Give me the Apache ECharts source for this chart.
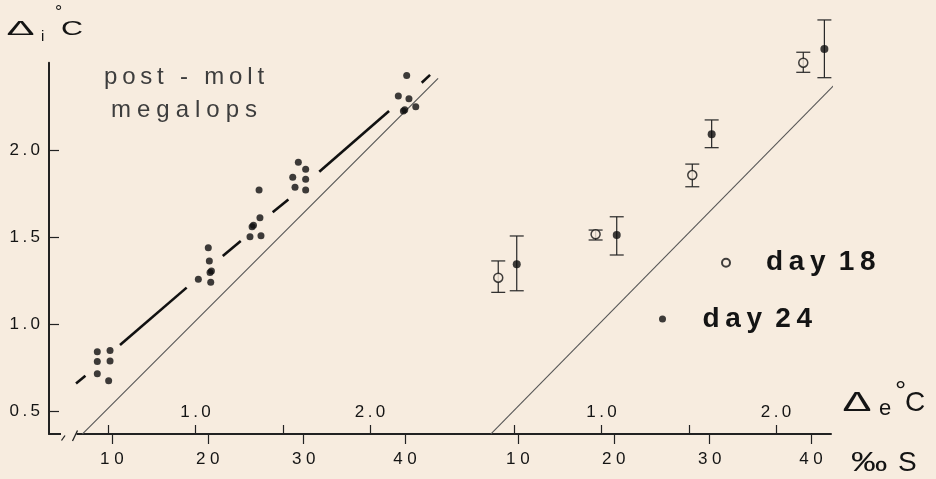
<!DOCTYPE html>
<html>
<head>
<meta charset="utf-8">
<script src="https://cdn.jsdelivr.net/npm/echarts@6/dist/echarts.min.js"></script>
<style>
  html, body { margin: 0; padding: 0; background: #f7ecdf; }
  #chart { width: 936px; height: 479px; }
</style>
</head>
<body>
<div id="chart"></div>
<script>
// ---- data ----------------------------------------------------------------
// Vertical axis (internal freezing-point depression, Δi °C)
const yTicks = [0.5, 1.0, 1.5, 2.0];
// Horizontal axis (external freezing-point depression, Δe °C)
const deltaETicks = [0.5, 1.0, 1.5, 2.0];
const deltaELabels = [1.0, 2.0];
// Salinity scale printed under the axis, placed at its Δe equivalent
const salinityLabels = ['10', '20', '30', '40'];
const salinityDeltaE = [0.52, 1.07, 1.62, 2.20];

// Post-molt megalops, individual determinations [Δe, Δi]
const megalopsPoints = [
  [0.437, 0.844], [0.510, 0.850], [0.437, 0.787], [0.510, 0.791], [0.437, 0.718], [0.502, 0.678],
  [1.073, 1.440], [1.079, 1.364], [1.083, 1.298], [1.091, 1.306], [1.016, 1.259], [1.087, 1.242],
  [1.364, 1.770], [1.369, 1.612], [1.324, 1.560], [1.332, 1.568], [1.312, 1.503], [1.375, 1.509],
  [1.589, 1.930], [1.631, 1.889], [1.557, 1.843], [1.631, 1.832], [1.570, 1.786], [1.631, 1.771],
  [2.210, 2.426], [2.162, 2.309], [2.223, 2.294], [2.191, 2.223], [2.199, 2.231], [2.262, 2.248]
];
// Regression line, drawn in pieces between the point clusters
const fitSegments = [
  [[0.315, 0.662], [0.369, 0.706]],
  [[0.567, 0.882], [0.949, 1.211]],
  [[1.156, 1.392], [1.259, 1.478]],
  [[1.442, 1.643], [1.532, 1.716]],
  [[1.709, 1.875], [2.109, 2.223]],
  [[2.296, 2.385], [2.344, 2.430]]
];
// Isosmotic lines
const isoLeft = [[0.351, 0.372], [2.39, 2.41]];
const isoRight = [[0.365, 0.372], [2.38, 2.42]];

// Means with ranges
const day18 = [[0.408, 1.268], [0.966, 1.517], [1.520, 1.856], [2.156, 2.500]];
const day18Range = [[1.184, 1.364], [1.484, 1.541], [1.789, 1.919], [2.445, 2.560]];
const day24 = [[0.514, 1.345], [1.087, 1.513], [1.631, 2.090], [2.277, 2.579]];
const day24Range = [[1.193, 1.507], [1.398, 1.617], [2.013, 2.172], [2.414, 2.745]];

// ---- styling ---------------------------------------------------------------
const BG = '#f7ecdf';
const INK = '#141414';
const AXIS = '#222';
const FONT = 'Liberation Sans';
const THIN = '\u2009';
const spaced = (s, sep = THIN) => Array.from(s).join(sep);
const nearestIndex = (arr, v) => {
  let best = 0;
  arr.forEach((a, i) => { if (Math.abs(a - v) < Math.abs(arr[best] - v)) best = i; });
  return best;
};

const Y_MIN = 0.3722, Y_MAX = 2.5;
const LEFT_X = [0.1602, 2.5871];
const RIGHT_X = [0.1602, 2.3149];
const TICK_FONT = { color: INK, fontFamily: FONT, fontSize: 17 };

function deltaEAxis(gridIndex, range) {
  return {
    type: 'value', gridIndex, position: 'bottom', min: range[0], max: range[1],
    axisLine: { show: true, onZero: false, lineStyle: { color: AXIS, width: 2 } },
    axisTick: { show: true, inside: true, length: 9, customValues: deltaETicks, lineStyle: { color: AXIS, width: 1.2 } },
    axisLabel: Object.assign({
      show: true, inside: true, margin: 13, customValues: deltaELabels,
      formatter: v => spaced(v.toFixed(1))
    }, TICK_FONT),
    splitLine: { show: false }
  };
}
function salinityAxis(gridIndex, range) {
  return {
    type: 'value', gridIndex, position: 'bottom', min: range[0], max: range[1],
    axisLine: { show: false, onZero: false },
    axisTick: { show: true, inside: false, length: 10, customValues: salinityDeltaE, lineStyle: { color: AXIS, width: 1.2 } },
    axisLabel: Object.assign({
      show: true, margin: 17, customValues: salinityDeltaE,
      formatter: v => spaced(salinityLabels[nearestIndex(salinityDeltaE, v)], ' ')
    }, TICK_FONT),
    splitLine: { show: false }
  };
}

function errorBars(points, ranges) {
  return points.map((p, i) => [p[0], ranges[i][0], ranges[i][1]]);
}
function renderErrorBar(params, api) {
  const x = api.value(0);
  const lo = api.coord([x, api.value(1)]);
  const hi = api.coord([x, api.value(2)]);
  const w = 7;
  const style = { stroke: '#262626', lineWidth: 1.2 };
  return {
    type: 'group',
    children: [
      { type: 'line', shape: { x1: hi[0], y1: hi[1], x2: lo[0], y2: lo[1] }, style },
      { type: 'line', shape: { x1: hi[0] - w, y1: hi[1], x2: hi[0] + w, y2: hi[1] }, style },
      { type: 'line', shape: { x1: lo[0] - w, y1: lo[1], x2: lo[0] + w, y2: lo[1] }, style }
    ]
  };
}

const lineSeries = (data, xi, yi, width, color) => ({
  type: 'line', data, xAxisIndex: xi, yAxisIndex: yi, symbol: 'none', silent: true,
  lineStyle: { width, color }, z: 3
});

const legendText = { fontSize: 28, fontWeight: 'bold', color: INK, fontFamily: FONT };
const legendFormatter = name => name.split(' ').map(w => spaced(w)).join(' ' + THIN);

const chart = echarts.init(document.getElementById('chart'), null, { renderer: 'canvas' });
chart.setOption({
  animation: false,
  backgroundColor: BG,
  grid: [
    { left: 49, top: 62.7, width: 423.5, height: 371.3 },
    { left: 455, top: 62.7, width: 376, height: 371.3 }
  ],
  xAxis: [
    deltaEAxis(0, LEFT_X), salinityAxis(0, LEFT_X),
    deltaEAxis(1, RIGHT_X), salinityAxis(1, RIGHT_X)
  ],
  yAxis: [
    {
      type: 'value', gridIndex: 0, min: Y_MIN, max: Y_MAX,
      axisLine: { show: true, lineStyle: { color: AXIS, width: 2 } },
      axisTick: { show: true, inside: true, length: 10, customValues: yTicks, lineStyle: { color: AXIS, width: 1.2 } },
      axisLabel: Object.assign({
        show: true, margin: 9, customValues: yTicks,
        formatter: v => spaced(v.toFixed(1))
      }, TICK_FONT),
      splitLine: { show: false }
    },
    { type: 'value', gridIndex: 1, min: Y_MIN, max: Y_MAX, show: false, splitLine: { show: false } }
  ],
  legend: [
    {
      data: ['day 18'], left: 721, top: 248.7, padding: 0, itemWidth: 70, itemHeight: 8,
      selectedMode: false, textStyle: legendText, formatter: legendFormatter
    },
    {
      data: ['day 24'], left: 659, top: 305, padding: 0, itemWidth: 70, itemHeight: 7,
      selectedMode: false, textStyle: legendText, formatter: legendFormatter
    }
  ],
  series: [
    lineSeries(isoLeft, 0, 0, 1.1, '#555'),
    ...fitSegments.map(seg => lineSeries(seg, 0, 0, 2.6, '#111')),
    {
      type: 'scatter', name: 'megalops', data: megalopsPoints, xAxisIndex: 0, yAxisIndex: 0,
      symbol: 'circle', symbolSize: 7, itemStyle: { color: '#0e0e0e' }, z: 5, clip: false
    },
    lineSeries(isoRight, 2, 1, 1.1, '#555'),
    {
      type: 'custom', name: 'day 18 range', xAxisIndex: 2, yAxisIndex: 1,
      data: errorBars(day18, day18Range), encode: { x: 0, y: [1, 2] },
      renderItem: renderErrorBar, z: 4, clip: false, silent: true
    },
    {
      type: 'custom', name: 'day 24 range', xAxisIndex: 2, yAxisIndex: 1,
      data: errorBars(day24, day24Range), encode: { x: 0, y: [1, 2] },
      renderItem: renderErrorBar, z: 4, clip: false, silent: true
    },
    {
      type: 'scatter', name: 'day 18', data: day18, xAxisIndex: 2, yAxisIndex: 1,
      symbol: 'circle', symbolSize: 9, clip: false, z: 6,
      itemStyle: { color: BG, borderColor: '#111', borderWidth: 1.5 }
    },
    {
      type: 'scatter', name: 'day 24', data: day24, xAxisIndex: 2, yAxisIndex: 1,
      symbol: 'circle', symbolSize: 8, clip: false, z: 6,
      itemStyle: { color: '#0e0e0e' }
    }
  ],
  graphic: [
    // break marks on the lower axis
    { type: 'rect', shape: { x: 61, y: 431, width: 15.5, height: 6 }, style: { fill: BG }, z: 100 },
    { type: 'line', shape: { x1: 61.5, y1: 440.5, x2: 65, y2: 435.5 }, style: { stroke: AXIS, lineWidth: 1.3 }, z: 101 },
    { type: 'line', shape: { x1: 72.5, y1: 441, x2: 77.5, y2: 430.5 }, style: { stroke: AXIS, lineWidth: 1.3 }, z: 101 },
    // vertical axis title: Δi °C
    { type: 'text', x: 6.5, y: 29.7, scaleX: 2.0, style: { text: 'Δ', font: '21px ' + FONT, fill: INK, align: 'left', verticalAlign: 'middle' } },
    { type: 'text', x: 41, y: 36.8, style: { text: 'i', font: '15px ' + FONT, fill: INK, align: 'left', verticalAlign: 'middle' } },
    { type: 'text', x: 55, y: 13, style: { text: '°', font: '18px ' + FONT, fill: INK, align: 'left', verticalAlign: 'middle' } },
    { type: 'text', x: 61, y: 29.7, scaleX: 1.45, style: { text: 'C', font: '21px ' + FONT, fill: INK, align: 'left', verticalAlign: 'middle' } },
    // horizontal axis titles: Δe °C and ‰ S
    { type: 'text', x: 842.5, y: 403.2, scaleX: 1.55, style: { text: 'Δ', font: '28px ' + FONT, fill: INK, align: 'left', verticalAlign: 'middle' } },
    { type: 'text', x: 879, y: 409, style: { text: 'e', font: '22px ' + FONT, fill: INK, align: 'left', verticalAlign: 'middle' } },
    { type: 'text', x: 895, y: 392, style: { text: '°', font: '28px ' + FONT, fill: INK, align: 'left', verticalAlign: 'middle' } },
    { type: 'text', x: 905, y: 403.3, style: { text: 'C', font: '28px ' + FONT, fill: INK, align: 'left', verticalAlign: 'middle' } },
    { type: 'text', x: 851, y: 463, scaleX: 1.3, style: { text: '‰', font: '28px ' + FONT, fill: INK, align: 'left', verticalAlign: 'middle' } },
    { type: 'text', x: 898, y: 463, style: { text: 'S', font: '28px ' + FONT, fill: INK, align: 'left', verticalAlign: 'middle' } },
    // panel caption
    { type: 'text', x: 104, y: 77, style: { text: spaced('post - molt'), font: '24px ' + FONT, fill: '#3d3d3d', align: 'left', verticalAlign: 'middle' } },
    { type: 'text', x: 111, y: 110.3, style: { text: spaced('megalops', '\u2005'), font: '24px ' + FONT, fill: '#3d3d3d', align: 'left', verticalAlign: 'middle' } }
  ]
});
</script>
</body>
</html>
